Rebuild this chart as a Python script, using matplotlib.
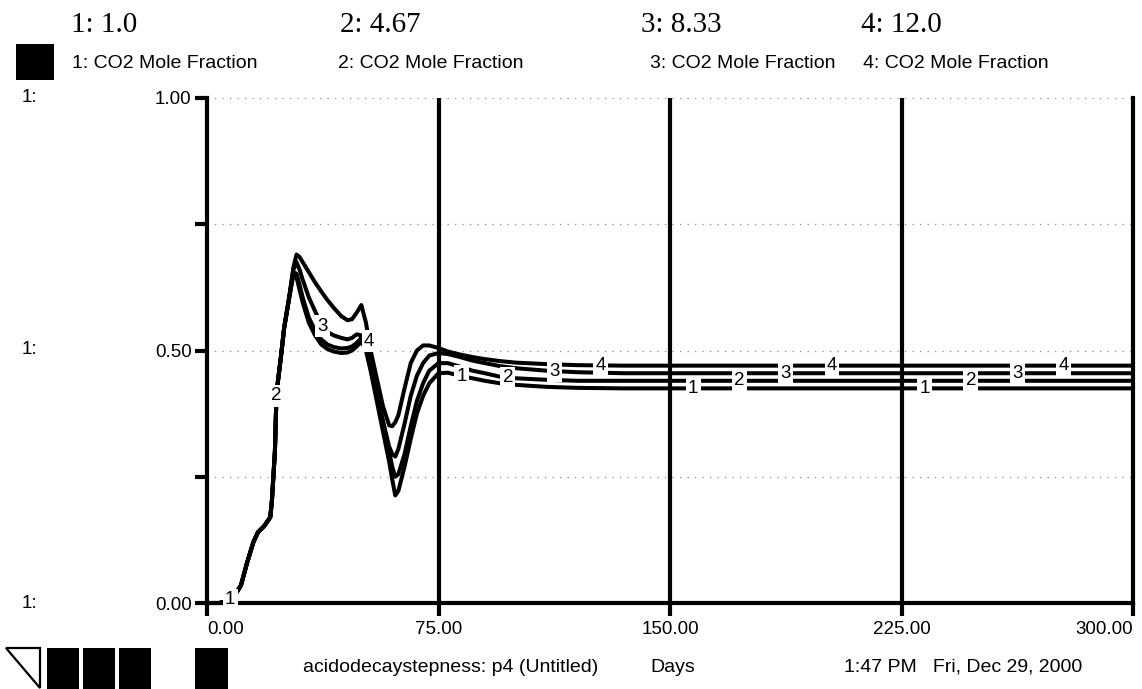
import numpy as np
import matplotlib
matplotlib.use("Agg")
import matplotlib.pyplot as plt
from matplotlib.patches import Rectangle, Polygon

# ---------------------------------------------------------------- data
days = [0, 4, 6, 8, 10, 11, 13, 15, 16.5, 18.5, 20.5, 21, 22, 22.5, 23, 24, 25,
        26.5, 28, 29, 30, 31, 33, 35, 37, 39, 41, 43.5, 45.5, 47, 48.5, 50,
        51.5, 53, 55, 57, 59, 60, 61, 62, 64, 66, 68, 70, 72, 75, 78, 82, 86,
        90, 95, 100, 110, 120, 135, 150, 175, 200, 225, 250, 275, 300]

# shared start-up transient (identical for all runs up to day 26.5)
rise = [0.0, 0.0, 0.003, 0.008, 0.025, 0.035, 0.08, 0.12, 0.14, 0.152, 0.17,
        0.20, 0.30, 0.41, 0.44, 0.49, 0.545, 0.60]

co2_run1 = rise + [0.65, 0.645, 0.62, 0.595, 0.555, 0.53, 0.512, 0.503, 0.498,
                   0.495, 0.496, 0.50, 0.508, 0.518, 0.50, 0.46, 0.40, 0.34,
                   0.28, 0.245, 0.213, 0.222, 0.27, 0.325, 0.375, 0.41, 0.435,
                   0.455, 0.456, 0.45, 0.445, 0.44, 0.435, 0.432, 0.428, 0.426,
                   0.425, 0.425, 0.425, 0.425, 0.425, 0.425, 0.425, 0.425]
co2_run2 = rise + [0.655, 0.652, 0.63, 0.605, 0.565, 0.54, 0.522, 0.512, 0.507,
                   0.504, 0.505, 0.508, 0.515, 0.525, 0.51, 0.47, 0.415, 0.36,
                   0.30, 0.27, 0.25, 0.255, 0.295, 0.35, 0.40, 0.435, 0.46,
                   0.475, 0.475, 0.468, 0.46, 0.455, 0.448, 0.445, 0.442, 0.44,
                   0.44, 0.44, 0.44, 0.44, 0.44, 0.44, 0.44, 0.44]
co2_run3 = rise + [0.66, 0.675, 0.66, 0.64, 0.605, 0.578, 0.552, 0.537, 0.53,
                   0.525, 0.522, 0.525, 0.532, 0.53, 0.505, 0.465, 0.415, 0.36,
                   0.31, 0.295, 0.29, 0.305, 0.355, 0.41, 0.45, 0.475, 0.49,
                   0.495, 0.493, 0.487, 0.48, 0.475, 0.469, 0.465, 0.46, 0.457,
                   0.455, 0.455, 0.455, 0.455, 0.455, 0.455, 0.455, 0.455]
co2_run4 = rise + [0.665, 0.69, 0.685, 0.675, 0.655, 0.635, 0.617, 0.60, 0.585,
                   0.568, 0.56, 0.562, 0.575, 0.59, 0.555, 0.50, 0.445, 0.39,
                   0.352, 0.35, 0.358, 0.372, 0.425, 0.475, 0.50, 0.51, 0.51,
                   0.505, 0.498, 0.492, 0.487, 0.483, 0.479, 0.476, 0.473, 0.471,
                   0.47, 0.47, 0.47, 0.47, 0.47, 0.47, 0.47, 0.47]

series = [co2_run1, co2_run2, co2_run3, co2_run4]
run_ids = ["1", "2", "3", "4"]
run_values = ["1.0", "4.67", "8.33", "12.0"]
series_name = "CO2 Mole Fraction"

x_ticks = [0, 75, 150, 225, 300]
x_labels = ["0.00", "75.00", "150.00", "225.00", "300.00"]
y_ticks = [0, 0.25, 0.5, 0.75, 1.0]
y_labels = ["0.00", "", "0.50", "", "1.00"]

# ---------------------------------------------------------------- layout
W, H = 1142, 689
SANS = "Liberation Sans"
SERIF = "Liberation Serif"
plt.rcParams["font.family"] = SANS

fig = plt.figure(figsize=(W / 100, H / 100), dpi=100)


def fx(px):
    return px / W


def fy(py):
    return 1 - py / H


ax = fig.add_axes([fx(207), fy(603), fx(1133) - fx(207), fy(98) - fy(603)])
ax.set_xlim(0, 300)
ax.set_ylim(0, 1)

AXLW = 3.0
for side in ("left", "bottom", "right"):
    ax.spines[side].set_linewidth(AXLW)
    ax.spines[side].set_color("black")
ax.spines["top"].set_visible(False)

# solid vertical grid, faint dotted horizontal grid
for xv in x_ticks[1:-1]:
    ax.axvline(xv, color="black", lw=AXLW, zorder=1)
for yv in y_ticks[1:]:
    ax.axhline(yv, color="#8c8c8c", lw=0.9, dashes=(1, 5), zorder=0.5)

ax.set_xticks(x_ticks)
ax.set_xticklabels(x_labels, fontsize=13.5)
ax.set_yticks(y_ticks)
ax.set_yticklabels(y_labels, fontsize=13.5)
ax.tick_params(axis="both", direction="out", length=9, width=AXLW, color="black")
ax.tick_params(axis="x", pad=4)
ax.tick_params(axis="y", pad=2)
xl = ax.get_xticklabels()
xl[0].set_horizontalalignment("left")
xl[-1].set_horizontalalignment("right")

# curves
for vals in series:
    ax.plot(days, vals, color="black", lw=2.9, solid_joinstyle="round",
            solid_capstyle="butt", zorder=3, clip_on=False)

# run number tags along each curve
for k, vals in enumerate(series):
    for m in range(4):
        t = 7.5 + 15 * k + 75 * m
        v = float(np.interp(t, days, vals))
        ax.text(t, v, run_ids[k], ha="center", va="center", fontsize=13.5,
                zorder=5,
                bbox=dict(boxstyle="square,pad=0.12", fc="white", ec="none"))

# scale markers on the left
for yv in (98, 350, 603):
    fig.text(fx(22), fy(yv), "1:", ha="left", va="center", fontsize=13.5)

# header: run values and legend
title_x = [71, 340, 641, 861]
legend_x = [72, 338, 650, 863]
for k in range(4):
    fig.text(fx(title_x[k]), fy(25), f"{run_ids[k]}: {run_values[k]}",
             family=SERIF, fontsize=21, ha="left", va="center")
    fig.text(fx(legend_x[k]), fy(64), f"{run_ids[k]}: {series_name}",
             fontsize=14, ha="left", va="center")
fig.patches.append(Rectangle((fx(16), fy(80)), fx(54) - fx(16), fy(44) - fy(80),
                             transform=fig.transFigure, fc="black", ec="none"))

# footer: tool buttons and status text
fig.patches.append(Polygon([(fx(6), fy(648)), (fx(40), fy(648)), (fx(40), fy(688))],
                           closed=True, transform=fig.transFigure,
                           fc="white", ec="black", lw=1.6))
for x0, x1 in [(47, 79), (83, 115), (119, 151), (195, 228)]:
    fig.patches.append(Rectangle((fx(x0), fy(689)), fx(x1) - fx(x0), fy(648) - fy(689),
                                 transform=fig.transFigure, fc="black", ec="none"))
fig.text(fx(303), fy(667), "acidodecaystepness: p4 (Untitled)", fontsize=14,
         ha="left", va="center")
fig.text(fx(650), fy(667), "Days", fontsize=14, ha="left", va="center")
fig.text(fx(844), fy(667), "1:47 PM   Fri, Dec 29, 2000", fontsize=14,
         ha="left", va="center")

fig.savefig("out.png", dpi=100)
